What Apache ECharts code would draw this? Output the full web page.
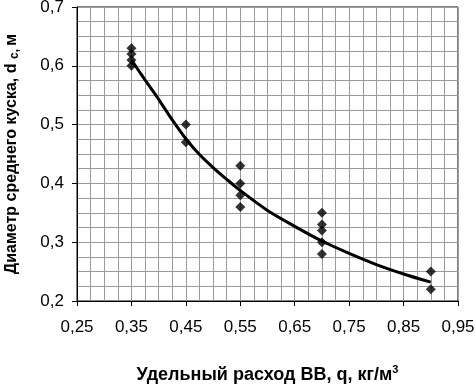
<!DOCTYPE html>
<html>
<head>
<meta charset="utf-8">
<script src="https://cdn.jsdelivr.net/npm/echarts@6/dist/echarts.min.js"></script>
<style>
html,body{margin:0;padding:0;background:#fff;}
#chart{width:476px;height:384px;}
</style>
</head>
<body>
<div id="chart"></div>
<script>
// Measured points: specific explosive consumption q (kg/m3) vs mean fragment diameter dc (m)
var pointX = [0.35, 0.35, 0.35, 0.35, 0.45, 0.45, 0.55, 0.55, 0.55, 0.55, 0.70, 0.70, 0.70, 0.70, 0.70, 0.90, 0.90];
var pointY = [0.63, 0.62, 0.61, 0.60, 0.50, 0.47, 0.43, 0.40, 0.38, 0.36, 0.35, 0.33, 0.32, 0.30, 0.28, 0.25, 0.22];
// Trend curve
var trendX = [0.35, 0.375, 0.40, 0.425, 0.45, 0.475, 0.50, 0.525, 0.55, 0.60, 0.65, 0.70, 0.75, 0.80, 0.85, 0.90];
var trendY = [0.610, 0.576, 0.543, 0.508, 0.476, 0.449, 0.427, 0.407, 0.388, 0.354, 0.327, 0.302, 0.281, 0.262, 0.246, 0.232];
var xTitle = 'Удельный расход ВВ, q, кг/м';
var yTitleA = 'Диаметр среднего куска, d ';
var yTitleSub = 'с, ';
var yTitleB = 'м';

var points = pointX.map(function (x, i) { return [x, pointY[i]]; });
var trend = trendX.map(function (x, i) { return [x, trendY[i]]; });

var chart = echarts.init(document.getElementById('chart'));
var gridColor = '#9a9a9a';
var font = 'Liberation Sans, Arial';
chart.setOption({
  animation: false,
  backgroundColor: '#fff',
  grid: { left: 77, right: 18, top: 7, bottom: 83, show: true, borderColor: '#000', borderWidth: 1,
          containLabel: false, outerBoundsMode: 'none' },
  xAxis: {
    type: 'value', min: 0.25, max: 0.95, interval: 0.1,
    axisLine: { lineStyle: { color: '#000', width: 1 } },
    axisTick: { show: true, length: 5, lineStyle: { color: '#000' } },
    axisLabel: { color: '#000', fontSize: 17, fontFamily: font, margin: 18,
      formatter: function (v) { return v.toFixed(2).replace('.', ','); } },
    splitLine: { show: true, lineStyle: { color: gridColor, width: 1 } },
    minorTick: { show: false, splitNumber: 4 },
    minorSplitLine: { show: true, lineStyle: { color: gridColor, width: 1 } },
    name: '{a|' + xTitle + '}{sup|3}',
    nameLocation: 'middle', nameGap: 63,
    nameTextStyle: {
      rich: {
        a: { fontSize: 18, fontWeight: 'bold', fontFamily: font, color: '#000' },
        sup: { fontSize: 11, fontWeight: 'bold', fontFamily: font, color: '#000', padding: [0, 0, 11, 0] }
      }
    }
  },
  yAxis: {
    type: 'value', min: 0.2, max: 0.7, interval: 0.1,
    axisLine: { show: true, lineStyle: { color: '#000', width: 1 } },
    axisTick: { show: true, length: 5, lineStyle: { color: '#000' } },
    axisLabel: { color: '#000', fontSize: 17, fontFamily: font, margin: 13,
      formatter: function (v) { return v.toFixed(1).replace('.', ','); } },
    splitLine: { show: true, lineStyle: { color: gridColor, width: 1 } },
    minorTick: { show: false, splitNumber: 4 },
    minorSplitLine: { show: true, lineStyle: { color: gridColor, width: 1 } },
    name: '{a|' + yTitleA + '}{sub|' + yTitleSub + '}{a|' + yTitleB + '}',
    nameLocation: 'middle', nameGap: 56,
    nameTextStyle: {
      rich: {
        a: { fontSize: 16, fontWeight: 'bold', fontFamily: font, color: '#000' },
        sub: { fontSize: 12, fontWeight: 'bold', fontFamily: font, color: '#000', padding: [6, 0, 0, 0] }
      }
    }
  },
  series: [
    {
      type: 'line', data: trend, smooth: 0.3, showSymbol: false, symbol: 'none',
      lineStyle: { color: '#000', width: 3 }, z: 3
    },
    {
      type: 'scatter', data: points, symbol: 'diamond', symbolSize: 10,
      itemStyle: { color: '#000' }, z: 4
    }
  ]
});
</script>
</body>
</html>
